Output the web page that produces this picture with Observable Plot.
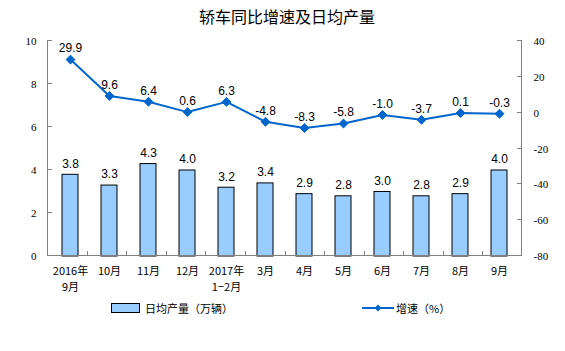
<!DOCTYPE html>
<html><head><meta charset="utf-8">
<script src="https://cdn.jsdelivr.net/npm/d3@7"></script>
<script src="https://cdn.jsdelivr.net/npm/@observablehq/plot@0.6"></script>
<style>
body{margin:0;background:#fff;width:565px;font-family:"Noto Sans CJK SC",sans-serif;}
#title{height:30px;line-height:32px;text-align:center;font-size:16px;font-weight:400;color:#000;padding-left:9px;box-sizing:border-box;}
#legend{height:26px;position:relative;font-size:11px;color:#000;}
.item{position:absolute;top:0;height:26px;display:flex;align-items:center;}
</style></head>
<body>
<div id="title">轿车同比增速及日均产量</div>
<div id="chart"></div>
<div id="legend">
  <div class="item" style="left:111px"><span style="display:inline-block;width:27px;height:8px;background:#99CCFF;border:1px solid #000;margin-right:5px"></span>日均产量（万辆）</div>
  <div class="item" style="left:362px"><svg width="32" height="10" style="margin-right:2px"><line x1="0" y1="5" x2="32" y2="5" stroke="#0066CC" stroke-width="2"/><path d="M16,1.5L19.5,5L16,8.5L12.5,5Z" fill="#0066CC"/></svg>增速（%）</div>
</div>
<script>
const categories = ["2016年\n9月","10月","11月","12月","2017年\n1−2月","3月","4月","5月","6月","7月","8月","9月"];
const output = [3.8,3.3,4.3,4.0,3.2,3.4,2.9,2.8,3.0,2.8,2.9,4.0];
const growth = [29.9,9.6,6.4,0.6,6.3,-4.8,-8.3,-5.8,-1.0,-3.7,0.1,-0.3];
const leftTicks = [0,2,4,6,8,10];
const rightTicks = [-80,-60,-40,-20,0,20,40];

const toLeft = v => (v + 80) / 12;
const data = categories.map((c,i)=>({c, out: output[i], g: growth[i], gl: toLeft(growth[i])}));

const axisColor = "#808080";
const frameMark = (index, scales, values, dim) => {
  const g = d3.create("svg:g");
  const x0 = dim.marginLeft, x1 = dim.width - dim.marginRight;
  const yb = dim.height - dim.marginBottom, yt = dim.marginTop;
  g.append("line").attr("x1",x0+0.5).attr("x2",x0+0.5).attr("y1",yt).attr("y2",yb).attr("stroke",axisColor);
  g.append("line").attr("x1",x1-0.5).attr("x2",x1-0.5).attr("y1",yt).attr("y2",yb).attr("stroke",axisColor);
  g.append("line").attr("x1",x0).attr("x2",x1).attr("y1",yb-0.5).attr("y2",yb-0.5).attr("stroke",axisColor);
  for (const t of leftTicks) {
    const y = Math.round(scales.y(t)) - 0.5;
    g.append("line").attr("x1",x0).attr("x2",x0+5).attr("y1",y).attr("y2",y).attr("stroke",axisColor);
  }
  for (const t of rightTicks) {
    const y = Math.round(scales.y(toLeft(t))) - 0.5;
    g.append("line").attr("x1",x1-5).attr("x2",x1).attr("y1",y).attr("y2",y).attr("stroke",axisColor);
  }
  const step = (x1 - x0) / categories.length;
  for (let i = 1; i < categories.length; i++) {
    const x = Math.round(x0 + step * i) + 0.5;
    g.append("line").attr("x1",x).attr("x2",x).attr("y1",yb).attr("y2",yb-5).attr("stroke",axisColor);
  }
  return g.node();
};

const plot = Plot.plot({
  width: 565, height: 265,
  marginLeft: 47, marginRight: 43, marginTop: 11, marginBottom: 39,
  style: {fontFamily: "Liberation Sans, Arial, sans-serif", fontSize: "12px", color: "#000", background: "#fff"},
  x: {domain: categories, paddingInner: 0.6, paddingOuter: 0.3, align: 0.5},
  y: {domain: [0, 10]},
  marks: [
    Plot.barY(data, {x: "c", y: "out", fill: "#99CCFF", stroke: "#000", strokeWidth: 1}),
    Plot.text(data, {x: "c", y: "out", text: d => d.out.toFixed(1), dy: -11, fontSize: 12, fill: "#000"}),
    Plot.lineY(data, {x: "c", y: "gl", stroke: "#0066CC", strokeWidth: 2}),
    Plot.dot(data, {x: "c", y: "gl", symbol: "diamond2", r: 4, fill: "#0066CC", stroke: "#0066CC", strokeWidth: 1}),
    Plot.text(data, {x: "c", y: "gl", text: d => d.g.toFixed(1), dy: -11, fontSize: 12, fill: "#000"}),
    frameMark,
    Plot.axisY({anchor: "left", ticks: leftTicks, tickSize: 0, tickPadding: 11, label: null, fontSize: 11, fontFamily: "Liberation Serif, serif"}),
    Plot.axisY({anchor: "right", ticks: rightTicks.map(toLeft), tickFormat: d => String(Math.round(d*12-80)), tickSize: 0, tickPadding: 11, label: null, fontSize: 11, fontFamily: "Liberation Serif, serif"}),
    Plot.axisX({anchor: "bottom", tickSize: 0, tickPadding: 8, label: null, fontSize: 11, fontFamily: "Noto Sans CJK SC, sans-serif", lineHeight: 1.4})
  ]
});
document.getElementById("chart").appendChild(plot);
</script>
</body></html>
